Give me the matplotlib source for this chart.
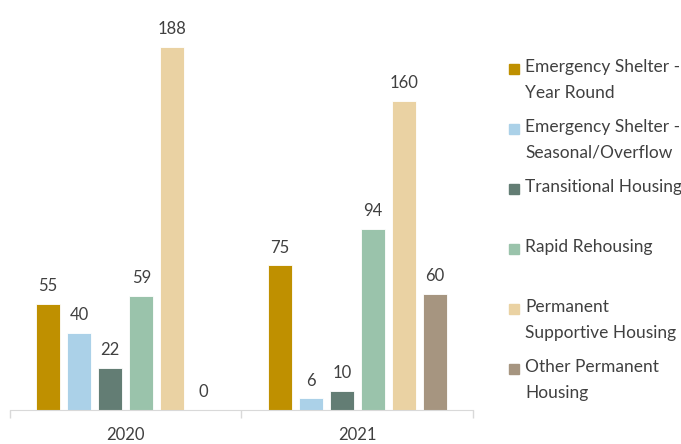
import matplotlib.pyplot as plt
import numpy as np

plt.rcParams["font.family"] = ["Lato", "DejaVu Sans"]

years = ["2020", "2021"]
series = [
    "Emergency Shelter -\nYear Round",
    "Emergency Shelter -\nSeasonal/Overflow",
    "Transitional Housing",
    "Rapid Rehousing",
    "Permanent\nSupportive Housing",
    "Other Permanent\nHousing",
]
values = [
    [55, 75],
    [40, 6],
    [22, 10],
    [59, 94],
    [188, 160],
    [0, 60],
]
colors = ["#BF9000", "#ABD1E8", "#637D74", "#9AC3AB", "#EAD2A3", "#A69580"]

TEXT = "#404040"
W, H = 681, 444
fig = plt.figure(figsize=(W / 100, H / 100), dpi=100)
# axes: x 10..473 px, baseline at y=410, top at y=24
ax = fig.add_axes([10 / W, (H - 410) / H, 463 / W, 386 / H])

x = np.arange(len(years))
step = 0.134
width = 0.104
for i, (name, vals, c) in enumerate(zip(series, values, colors)):
    pos = x + (i - 2.5) * step
    bars = ax.bar(pos, vals, width=width, color=c, edgecolor="white", linewidth=0.6)
    for b, v in zip(bars, vals):
        ax.annotate(str(v), (b.get_x() + b.get_width() / 2, v), xytext=(0, 7),
                    textcoords="offset points", ha="center", va="bottom",
                    fontsize=12, color=TEXT)

ax.set_xlim(-0.5, 1.5)
ax.set_ylim(0, 200)
for s in ["top", "right", "left"]:
    ax.spines[s].set_visible(False)
ax.spines["bottom"].set_color("#D9D9D9")
ax.set_yticks([])
ax.set_xticks([-0.5, 0.5, 1.5], minor=False)
ax.set_xticklabels([])
ax.tick_params(axis="x", length=6, color="#D9D9D9", width=1)
ax.set_xticks(x, minor=True)
ax.set_xticklabels(years, minor=True)
ax.tick_params(axis="x", which="minor", length=0, pad=12, labelsize=12, labelcolor=TEXT)

# legend drawn by hand to match the uneven spacing
for i, (name, c) in enumerate(zip(series, colors)):
    ymid = 69 + 60 * i  # pixel row of the marker / first text line
    fig.patches.append(plt.Rectangle((509 / W, 1 - (ymid + 5) / H), 10 / W, 10 / H,
                                     transform=fig.transFigure, color=c, figure=fig))
    fig.text(525 / W, 1 - (ymid - 10) / H, name, ha="left", va="top", fontsize=12.5,
             color=TEXT, linespacing=1.75)

fig.savefig("out.png", dpi=100)
